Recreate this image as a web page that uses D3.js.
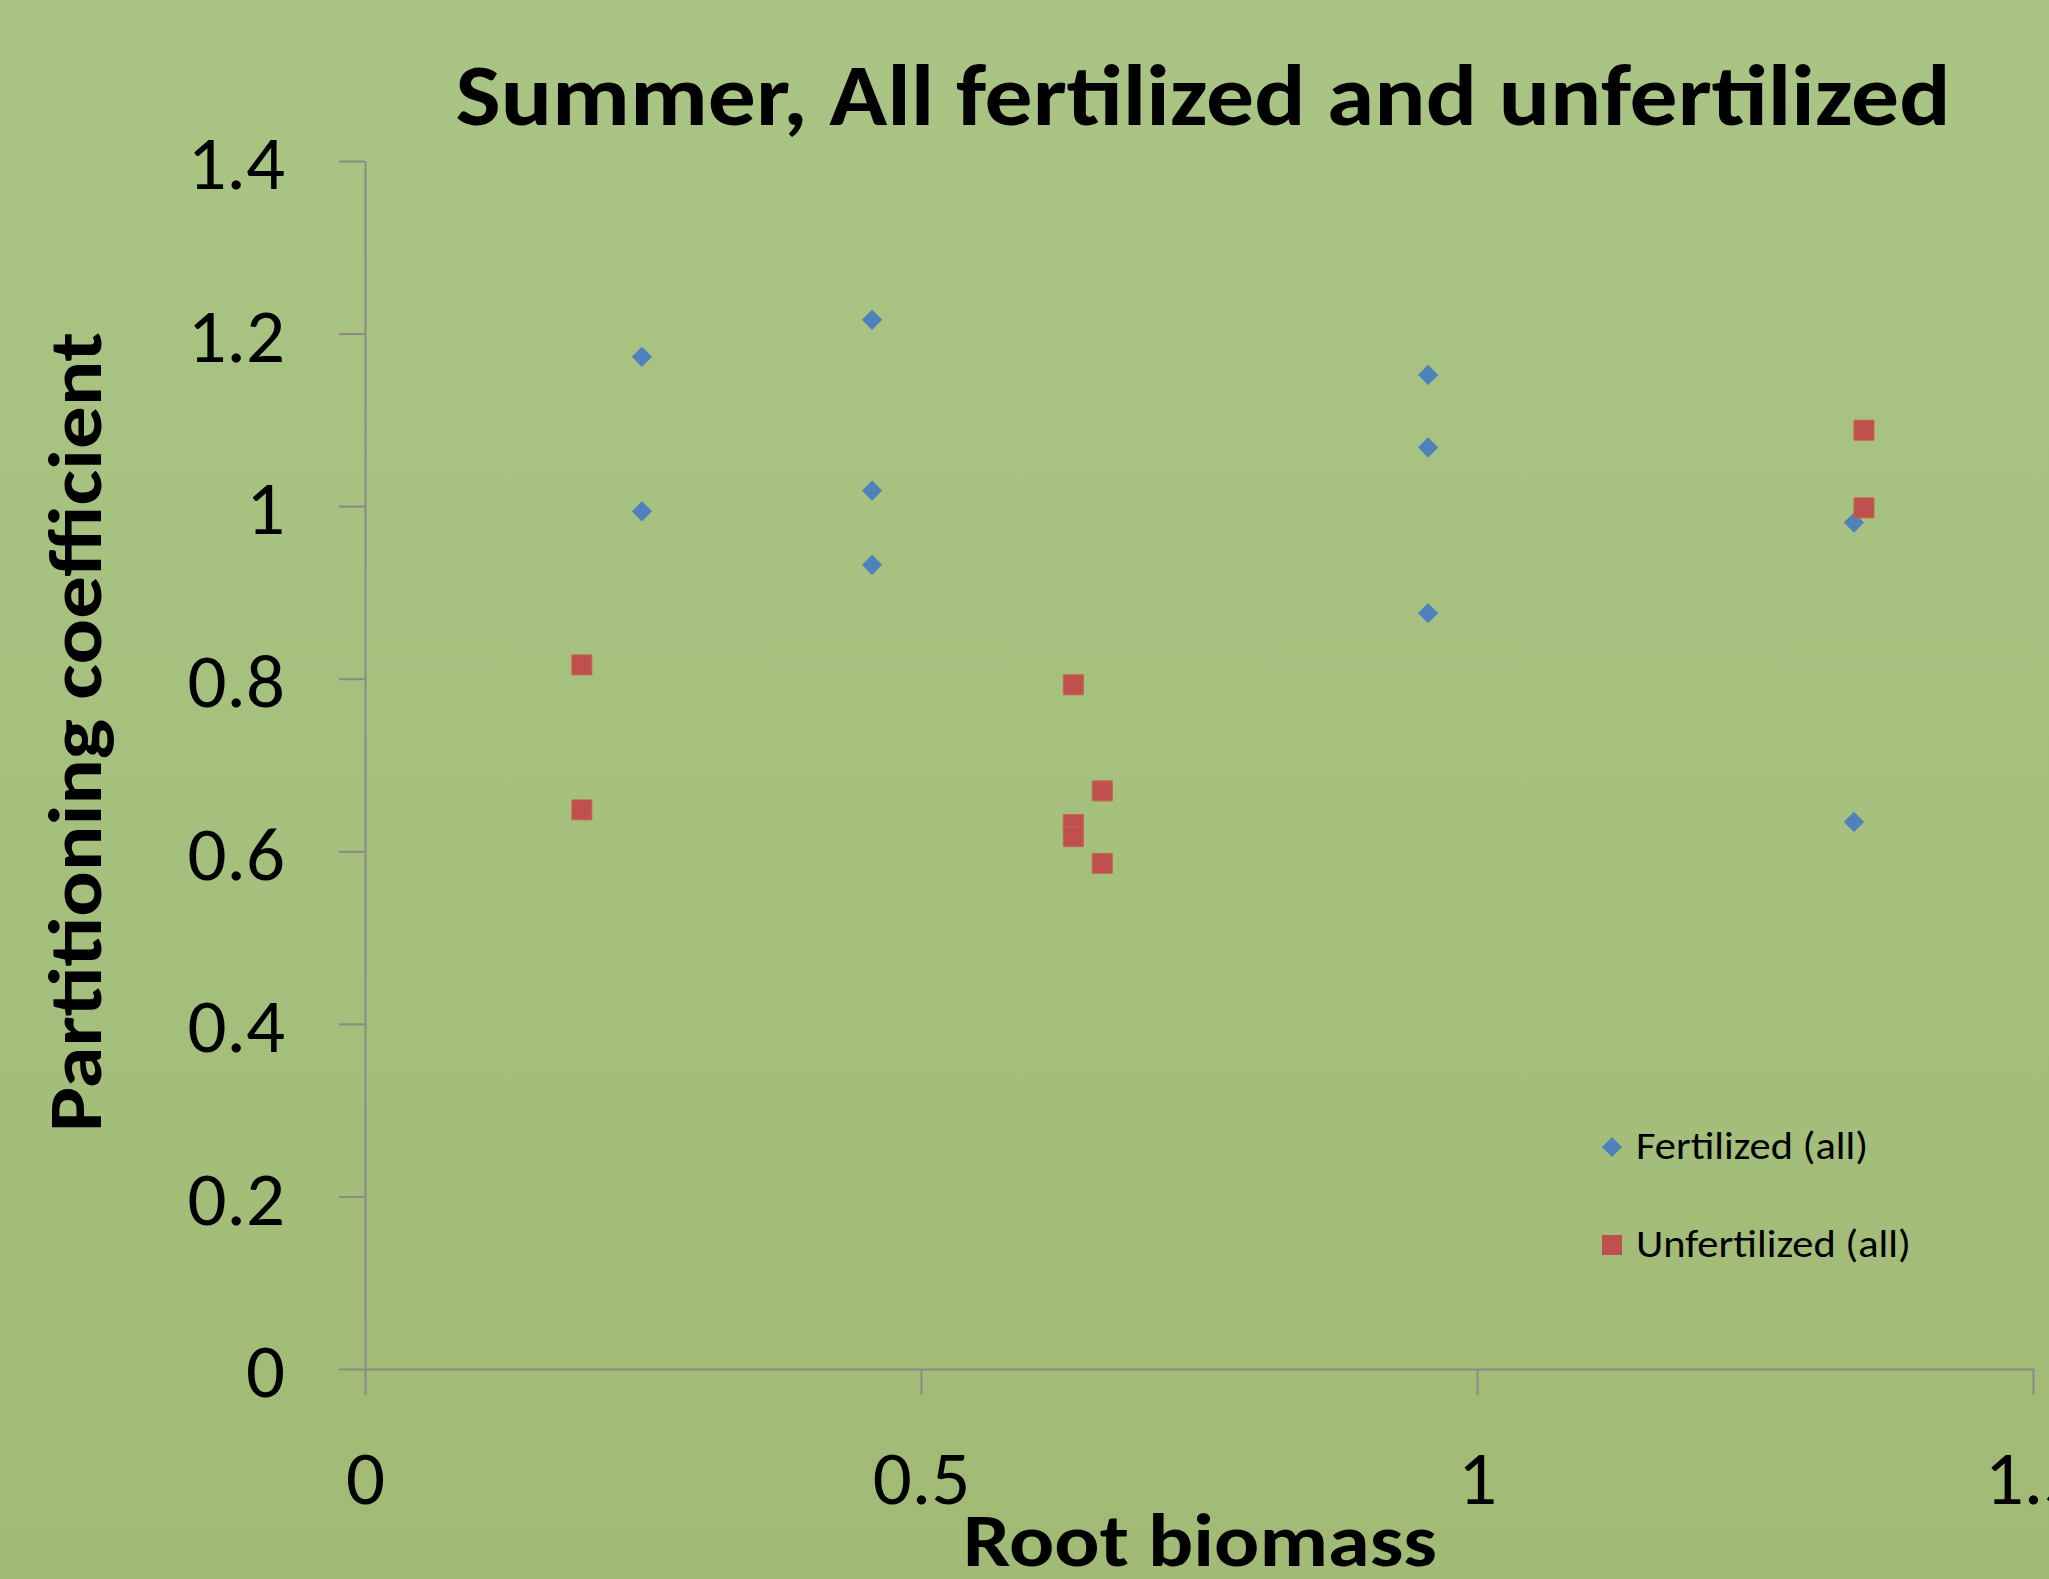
<!DOCTYPE html>
<html>
<head>
<meta charset="utf-8">
<script src="https://cdn.jsdelivr.net/npm/d3@7"></script>
<style>
  html, body { margin: 0; padding: 0; background: #a5bf7d; }
  svg { display: block; }
  .tick text { fill: #000; }
</style>
</head>
<body>
<div id="chart"></div>
<script>
// root biomass (x) / partitioning coefficient (y)
const fertX = [0.249, 0.249, 0.456, 0.456, 0.456, 0.956, 0.956, 0.956, 1.339, 1.339];
const fertY = [1.173, 0.994, 1.216, 1.018, 0.932, 1.152, 1.068, 0.876, 0.981, 0.634];
const unfertX = [0.195, 0.195, 0.637, 0.637, 0.637, 0.663, 0.663, 1.348, 1.348];
const unfertY = [0.816, 0.648, 0.793, 0.631, 0.617, 0.670, 0.586, 1.088, 0.998];

const seriesNames = ['Fertilized (all)', 'Unfertilized (all)'];
const xTicks = [0, 0.5, 1, 1.5];
const xTickLabels = ['0', '0.5', '1', '1.5'];
const yTicks = [0, 0.2, 0.4, 0.6, 0.8, 1, 1.2, 1.4];
const yTickLabels = ['0', '0.2', '0.4', '0.6', '0.8', '1', '1.2', '1.4'];

const W = 2049, H = 1579;
const FONT = 'Calibri, Carlito, Lato, sans-serif';
const BLUE = '#4f81bd', RED = '#c0504d', AXIS = '#8a8a8a';

const svg = d3.select('#chart').append('svg')
  .attr('width', W)
  .attr('height', H);

// background gradient like the slide
const grad = svg.append('defs').append('linearGradient')
  .attr('id', 'bg').attr('x1', 0).attr('y1', 0).attr('x2', 0).attr('y2', 1);
grad.append('stop').attr('offset', '0%').attr('stop-color', '#aac485');
grad.append('stop').attr('offset', '100%').attr('stop-color', '#a1bb76');
svg.append('rect').attr('width', W).attr('height', H).attr('fill', 'url(#bg)');

const x = d3.scaleLinear().domain([0, 1.5]).range([365, 2033]);
const y = d3.scaleLinear().domain([0, 1.4]).range([1369, 161]);

// axes
const gx = svg.append('g')
  .attr('transform', `translate(0,${y(0)})`)
  .call(d3.axisBottom(x).tickValues(xTicks).tickFormat((d, i) => xTickLabels[i])
    .tickSize(26).tickSizeOuter(0).tickPadding(54));

const gy = svg.append('g')
  .attr('transform', `translate(${x(0)},0)`)
  .call(d3.axisLeft(y).tickValues(yTicks).tickFormat((d, i) => yTickLabels[i])
    .tickSize(26).tickSizeOuter(0).tickPadding(54));

[gx, gy].forEach(g => {
  g.selectAll('path, line').attr('stroke', AXIS).attr('stroke-width', 2);
  g.selectAll('text')
    .style('font-family', FONT)
    .style('font-size', '77px');
});
gx.selectAll('text').attr('dy', '0.71em');
gy.selectAll('text').attr('dy', '0.36em');

// points
const fert = fertX.map((v, i) => ({ x: v, y: fertY[i] }));
const unfert = unfertX.map((v, i) => ({ x: v, y: unfertY[i] }));

const diamond = d3.symbol().type(d3.symbolSquare).size(205);
const square = d3.symbol().type(d3.symbolSquare).size(400);

svg.append('g').selectAll('path')
  .data(fert)
  .enter()
  .append('path')
  .attr('d', diamond)
  .attr('transform', d => `translate(${x(d.x)},${y(d.y)}) rotate(45)`)
  .attr('fill', BLUE);

svg.append('g').selectAll('path')
  .data(unfert)
  .enter()
  .append('path')
  .attr('d', square)
  .attr('transform', d => `translate(${x(d.x)},${y(d.y)})`)
  .attr('fill', RED)
  .attr('stroke', '#c8644f')
  .attr('stroke-width', 1);

// titles
svg.append('text')
  .attr('x', 1203)
  .attr('y', 125)
  .attr('text-anchor', 'middle')
  .attr('textLength', 1495)
  .attr('lengthAdjust', 'spacingAndGlyphs')
  .style('font-family', FONT)
  .style('font-weight', 'bold')
  .style('font-size', '86px')
  .text('Summer, All fertilized and unfertilized');

svg.append('text')
  .attr('x', 1200)
  .attr('y', 1566)
  .attr('text-anchor', 'middle')
  .attr('textLength', 474)
  .attr('lengthAdjust', 'spacingAndGlyphs')
  .style('font-family', FONT)
  .style('font-weight', 'bold')
  .style('font-size', '74px')
  .text('Root biomass');

svg.append('text')
  .attr('transform', 'translate(101,732) rotate(-90)')
  .attr('text-anchor', 'middle')
  .attr('textLength', 800)
  .attr('lengthAdjust', 'spacingAndGlyphs')
  .style('font-family', FONT)
  .style('font-weight', 'bold')
  .style('font-size', '75px')
  .text('Partitioning coefficient');

// legend
const legendWidths = [232, 275];
const legend = svg.append('g').attr('transform', 'translate(1612,1147)');
const items = legend.selectAll('g')
  .data(seriesNames)
  .enter()
  .append('g')
  .attr('transform', (d, i) => `translate(0,${i * 98})`);

items.append('path')
  .attr('d', (d, i) => i === 0 ? diamond() : square())
  .attr('transform', (d, i) => i === 0 ? 'rotate(45)' : null)
  .attr('fill', (d, i) => i === 0 ? BLUE : RED);

items.append('text')
  .attr('x', 24)
  .attr('y', 12)
  .attr('textLength', (d, i) => legendWidths[i])
  .attr('lengthAdjust', 'spacingAndGlyphs')
  .style('font-family', FONT)
  .style('font-size', '39px')
  .text(d => d);
</script>
</body>
</html>
